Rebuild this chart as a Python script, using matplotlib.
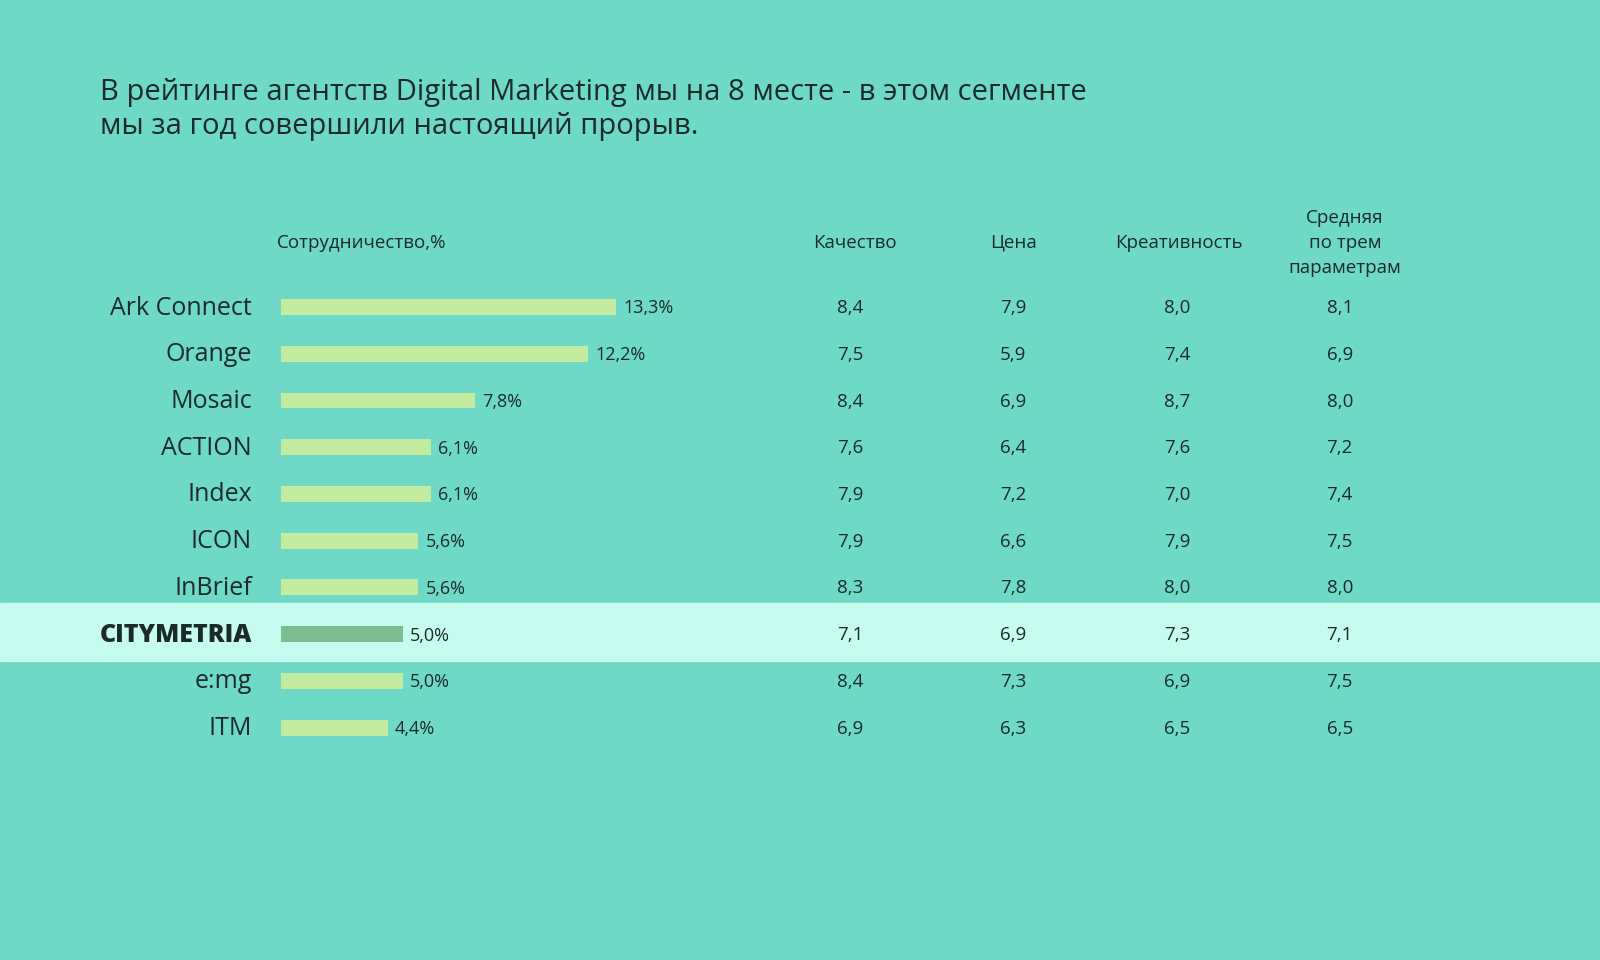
import matplotlib
matplotlib.use('Agg')
from matplotlib import pyplot as plt

plt.rcParams['font.family'] = ['Open Sans', 'DejaVu Sans']

title_lines = ['В рейтинге агентств Digital Marketing мы на 8 месте - в этом сегменте',
               'мы за год совершили настоящий прорыв.']
agencies = ['Ark Connect', 'Orange', 'Mosaic', 'ACTION', 'Index', 'ICON', 'InBrief',
            'CITYMETRIA', 'e:mg', 'ITM']
share = [13.3, 12.2, 7.8, 6.1, 6.1, 5.6, 5.6, 5.0, 5.0, 4.4]
quality = [8.4, 7.5, 8.4, 7.6, 7.9, 7.9, 8.3, 7.1, 8.4, 6.9]
price = [7.9, 5.9, 6.9, 6.4, 7.2, 6.6, 7.8, 6.9, 7.3, 6.3]
creative = [8.0, 7.4, 8.7, 7.6, 7.0, 7.9, 8.0, 7.3, 6.9, 6.5]
average = [8.1, 6.9, 8.0, 7.2, 7.4, 7.5, 8.0, 7.1, 7.5, 6.5]
col_headers = ['Качество', 'Цена', 'Креативность', 'Средняя\nпо трем\nпараметрам']
highlight = 'CITYMETRIA'

bg = '#6dd9c6'
band = '#c6fcf0'
bar_col = '#c2eba0'
bar_hi = '#7bbd8e'
txt = '#1c2a29'

W, H = 1568, 941
fig = plt.figure(figsize=(16, 9.6), dpi=100, facecolor=bg)
ax = fig.add_axes([0, 0, 1, 1])
ax.set_xlim(0, W)
ax.set_ylim(H, 0)
ax.axis('off')

row0, step = 301, 45.8
hi = agencies.index(highlight)
ax.axhspan(row0 + hi * step - 31, row0 + hi * step + 26, color=band, zorder=0)

# title
ax.text(98, 91, title_lines[0], fontsize=21, color=txt, va='center', ha='left')
ax.text(98, 124, title_lines[1], fontsize=21, color=txt, va='center', ha='left')

# headers
ax.text(271, 238, 'Сотрудничество,%', fontsize=13.5, color=txt, va='center', ha='left')
col_x = [838, 993, 1155, 1318]
for cx, h in zip(col_x, col_headers):
    ax.text(cx, 238, h, fontsize=13.5, color=txt, va='center', ha='center', linespacing=1.5)

val_x = [820, 980, 1141, 1300]
for i, name in enumerate(agencies):
    y = row0 + i * step + 1
    if name == highlight:
        ax.text(247, y, name, fontsize=18, fontweight='heavy', color=txt, va='center', ha='right')
    else:
        ax.text(247, y, name, fontsize=18, color=txt, va='center', ha='right')
    for vx, col in zip(val_x, [quality, price, creative, average]):
        ax.text(vx, y, f'{col[i]:.1f}'.replace('.', ','), fontsize=13.5, color=txt,
                va='center', ha='left')

# bars
bx = fig.add_axes([275 / W, 1 - (row0 + 9.5 * step) / H, (604 - 275) / W, 10 * step / H])
bx.set_xlim(0.24, max(share))
bx.set_ylim(len(agencies) - 0.5, -0.5)
bx.axis('off')
bx.patch.set_alpha(0)
colors = [bar_hi if a == highlight else bar_col for a in agencies]
bx.barh(range(len(agencies)), share, height=0.34, color=colors)
for i, v in enumerate(share):
    bx.annotate(f'{v:.1f}%'.replace('.', ','), (v, i), xytext=(5, -1), textcoords='offset points',
                fontsize=13, color=txt, va='center', ha='left', annotation_clip=False)

fig.savefig('out.png', dpi=100, facecolor=bg)
